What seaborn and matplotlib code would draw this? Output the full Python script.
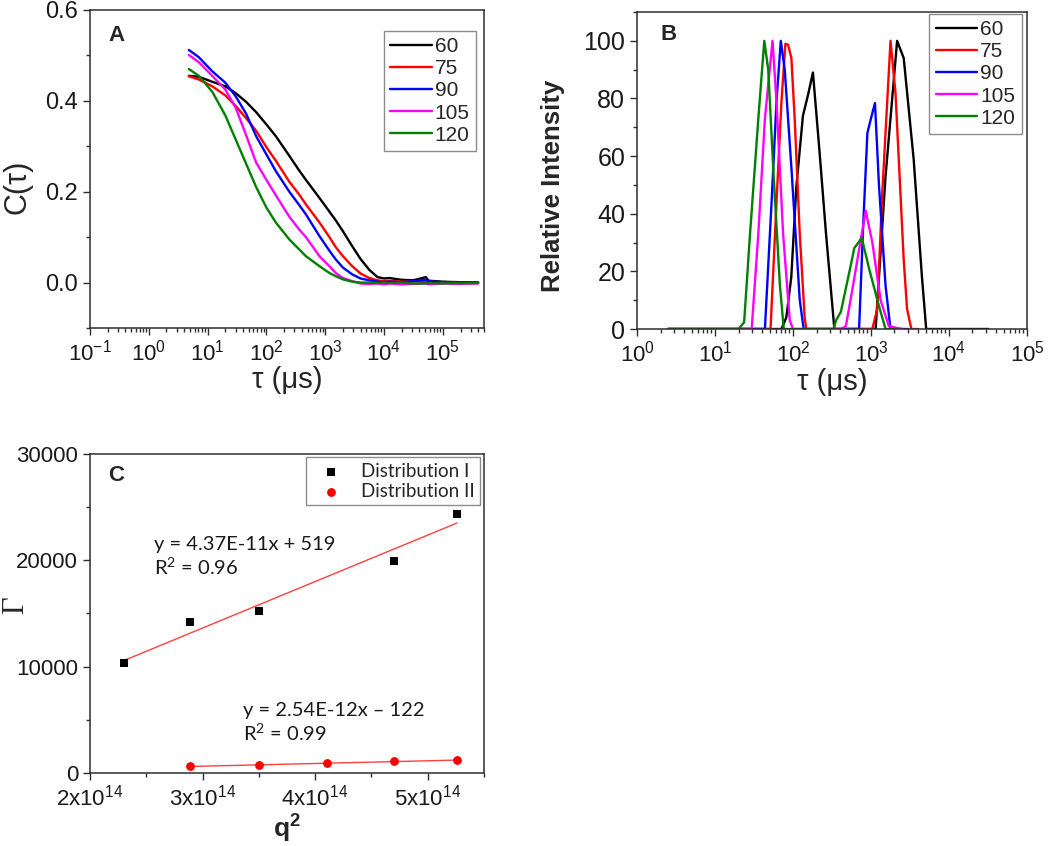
import matplotlib
matplotlib.use("Agg")
import matplotlib.pyplot as plt
import matplotlib.ticker as mticker
import seaborn as sns

# ============================================================
# DATA
# ============================================================
SERIES = ["60", "75", "90", "105", "120"]
COLORS = {"60": "black", "75": "#ff0000", "90": "#0000ff",
          "105": "#ff00ff", "120": "#008000"}

# --- panel A: correlation function C(tau), tau in microseconds ---
A_TAU = [4.8, 7.1, 12, 20, 30, 45, 67, 100, 145, 245, 355, 470, 800, 1180,
         1510, 2000, 2880, 3980, 5620, 7760, 10000, 12300, 20000, 31600,
         51300, 57500, 100000, 158000, 398000]
A_C_60 = [0.455, 0.453, 0.442, 0.432, 0.417, 0.398, 0.375, 0.348, 0.322,
          0.279, 0.248, 0.226, 0.186, 0.156, 0.137, 0.113, 0.080, 0.052,
          0.028, 0.012, 0.009, 0.010, 0.006, 0.005, 0.012, 0.004, 0.002,
          0.001, 0.000]
A_C_75 = [0.454, 0.447, 0.432, 0.412, 0.389, 0.362, 0.334, 0.298, 0.268,
          0.222, 0.195, 0.172, 0.132, 0.100, 0.078, 0.058, 0.036, 0.020,
          0.010, 0.005, 0.003, 0.004, 0.002, 0.003, 0.001, 0.002, 0.000,
          0.001, 0.000]
A_C_90 = [0.512, 0.496, 0.465, 0.440, 0.410, 0.372, 0.322, 0.282, 0.245,
          0.200, 0.172, 0.150, 0.102, 0.070, 0.051, 0.033, 0.018, 0.009,
          0.005, 0.002, 0.001, 0.002, 0.001, 0.003, 0.006, 0.003, 0.000,
          0.001, 0.000]
A_C_105 = [0.501, 0.485, 0.455, 0.425, 0.385, 0.325, 0.264, 0.226, 0.192,
           0.145, 0.118, 0.100, 0.058, 0.036, 0.021, 0.010, 0.003, -0.002,
           -0.003, -0.002, -0.004, -0.002, -0.004, -0.003, -0.002, -0.004,
           -0.002, -0.003, -0.002]
A_C_120 = [0.470, 0.455, 0.420, 0.368, 0.315, 0.262, 0.210, 0.165, 0.132,
           0.095, 0.074, 0.058, 0.036, 0.021, 0.014, 0.007, 0.002, 0.000,
           0.000, -0.001, 0.000, -0.001, 0.000, -0.002, -0.002, -0.001,
           -0.002, -0.001, -0.001]
A_C = {"60": A_C_60, "75": A_C_75, "90": A_C_90, "105": A_C_105, "120": A_C_120}

# --- panel B: relaxation time distributions ---
B_TAU_60 = [2.5, 71, 82, 95, 110, 134, 155, 180, 218, 265, 339, 1146, 1203,
            1536, 2161, 2626, 3520, 4500, 5100, 32000]
B_I_60 = [0, 0, 4, 18, 49, 74, 81, 89, 62, 33, 0, 0, 9, 53, 100, 94, 59, 18,
          0, 0]
B_TAU_75 = [2.5, 51.5, 61.4, 71.1, 79.9, 86.4, 95.3, 105, 122, 141, 148, 1040,
            1203, 1393, 1778, 2059, 2626, 2897, 3290, 4000]
B_I_75 = [0, 0, 44, 79, 99, 98.6, 94, 73, 33, 4, 0, 0, 7, 47, 100, 82, 24, 7,
          0, 0]
B_TAU_90 = [2.5, 43.6, 53.1, 61.4, 69.7, 78.3, 95.3, 122, 137, 703, 791, 898,
            1019, 1124, 1264, 1536, 1778, 3000]
B_I_90 = [0, 0, 44, 79, 100, 90, 56, 10, 0, 0, 35, 68, 74, 78.4, 50, 15, 0, 0]
B_TAU_105 = [2.5, 29.5, 35.9, 43.6, 54.6, 61.4, 74.6, 90.8, 100, 411, 476, 579,
             739, 855, 1040, 1327, 1693, 2500]
B_I_105 = [0, 0, 33, 73, 100, 79, 33, 3, 0, 0, 1, 14, 31, 41, 30, 10, 1, 0]
B_TAU_120 = [2.5, 20, 23.6, 28.1, 35.9, 42.8, 48.1, 55.7, 67.7, 76.1, 330, 356,
             411, 579, 608, 761, 944, 1264, 1463, 1536, 2000]
B_I_120 = [0, 0, 2.3, 33, 73, 100, 90, 56, 15.6, 0, 0, 3, 6, 25, 28, 31.6, 21,
           8, 2, 0, 0]
B_TAU = {"60": B_TAU_60, "75": B_TAU_75, "90": B_TAU_90, "105": B_TAU_105,
         "120": B_TAU_120}
B_I = {"60": B_I_60, "75": B_I_75, "90": B_I_90, "105": B_I_105,
       "120": B_I_120}

# --- panel C: decay rate vs q^2 ---
C_Q2_I = [2.30e14, 2.89e14, 3.50e14, 4.70e14, 5.26e14]
C_GAMMA_I = [10300, 14200, 15200, 19900, 24400]
C_Q2_II = [2.89e14, 3.50e14, 4.11e14, 4.70e14, 5.26e14]
C_GAMMA_II = [660, 780, 910, 1100, 1220]
FIT_I = (4.37e-11, 519, 0.96)      # slope, intercept, R^2
FIT_II = (2.54e-12, -122, 0.99)

# ============================================================
# STYLE
# ============================================================
sns.set_style("ticks")
plt.rcParams["font.family"] = ["Liberation Sans", "DejaVu Sans"]
plt.rcParams["mathtext.fontset"] = "custom"
plt.rcParams["mathtext.rm"] = "Liberation Sans"
plt.rcParams["mathtext.it"] = "Liberation Sans:italic"
plt.rcParams["mathtext.bf"] = "Liberation Sans:bold"
plt.rcParams["axes.unicode_minus"] = False

SPINE = "#2e2e2e"
TICK_FS = 16
LINE_W = 1.7


def style_axes(ax):
    for s in ax.spines.values():
        s.set_color(SPINE)
        s.set_linewidth(1.1)
    ax.tick_params(which="both", direction="out", color=SPINE, width=1.0,
                   labelsize=TICK_FS, labelcolor="#1a1a1a",
                   top=False, right=False)
    ax.tick_params(which="major", length=5)
    ax.tick_params(which="minor", length=3)


def log_axis(ax):
    ax.set_xscale("log")
    ax.xaxis.set_major_locator(mticker.LogLocator(base=10, numticks=12))
    ax.xaxis.set_minor_locator(mticker.LogLocator(base=10, subs=range(2, 10),
                                                  numticks=100))
    ax.xaxis.set_minor_formatter(mticker.NullFormatter())


def legend_box(ax, **kw):
    leg = ax.legend(frameon=True, fancybox=False, framealpha=1,
                    edgecolor="#8c8c8c", borderaxespad=0, **kw)
    leg.get_frame().set_linewidth(1.0)
    return leg


fig = plt.figure(figsize=(10.5, 8.46), dpi=100)
axA = fig.add_axes([0.0857, 0.6123, 0.3752, 0.3759])
axB = fig.add_axes([0.6067, 0.6111, 0.3714, 0.3747])
axC = fig.add_axes([0.0857, 0.0863, 0.3752, 0.3771])

# ============================================================
# PANEL A
# ============================================================
for name in SERIES:
    sns.lineplot(x=A_TAU, y=A_C[name], color=COLORS[name], lw=LINE_W,
                 label=name, estimator=None, ax=axA)
log_axis(axA)
axA.set_xlim(0.1, 5e5)
axA.set_ylim(-0.1, 0.6)
axA.yaxis.set_major_locator(mticker.MultipleLocator(0.2))
axA.yaxis.set_minor_locator(mticker.MultipleLocator(0.1))
axA.yaxis.set_major_formatter(mticker.FormatStrFormatter("%.1f"))
style_axes(axA)
axA.tick_params(axis="y", labelsize=17)
axA.set_xlabel("τ (μs)", fontsize=21)
axA.set_ylabel("C(τ)", fontsize=22)
axA.xaxis.set_label_coords(0.5, -0.12)
axA.yaxis.set_label_coords(-0.145, 0.445)
axA.text(0.046, 0.92, "A", transform=axA.transAxes, fontsize=16,
         fontweight="bold", va="center", ha="left")
legend_box(axA, loc="upper right", bbox_to_anchor=(0.98, 0.934),
           fontsize=15, handlelength=2.0, handletextpad=0.15,
           labelspacing=0.15, borderpad=0.3)

# ============================================================
# PANEL B
# ============================================================
for name in SERIES:
    sns.lineplot(x=B_TAU[name], y=B_I[name], color=COLORS[name], lw=LINE_W,
                 label=name, estimator=None, ax=axB)
log_axis(axB)
axB.set_xlim(1, 1e5)
axB.set_ylim(0, 110)
axB.yaxis.set_major_locator(mticker.MultipleLocator(20))
axB.yaxis.set_minor_locator(mticker.MultipleLocator(10))
style_axes(axB)
axB.tick_params(axis="y", labelsize=18)
axB.set_xlabel("τ (μs)", fontsize=21)
axB.set_ylabel("Relative Intensity", fontsize=18.5, fontweight="bold")
axB.xaxis.set_label_coords(0.5, -0.123)
axB.yaxis.set_label_coords(-0.185, 0.45)
axB.text(0.059, 0.929, "B", transform=axB.transAxes, fontsize=16,
         fontweight="bold", va="center", ha="left")
legend_box(axB, loc="upper right", bbox_to_anchor=(0.986, 0.994),
           fontsize=15, handlelength=2.0, handletextpad=0.15,
           labelspacing=0.15, borderpad=0.3)

# ============================================================
# PANEL C
# ============================================================
for xs, (slope, icpt, _) in [(C_Q2_I, FIT_I), (C_Q2_II, FIT_II)]:
    ends = [min(xs), max(xs)]
    sns.lineplot(x=ends, y=[slope * v + icpt for v in ends], color="#ff4040",
                 lw=1.0, estimator=None, ax=axC)
sns.scatterplot(x=C_Q2_I, y=C_GAMMA_I, marker="s", color="black", s=38,
                linewidth=0, label="Distribution I", ax=axC, zorder=3)
sns.scatterplot(x=C_Q2_II, y=C_GAMMA_II, marker="o", color="#ff0000", s=40,
                linewidth=0, label="Distribution II", ax=axC, zorder=3)
axC.set_xlim(2e14, 5.5e14)
axC.set_ylim(0, 30000)
axC.xaxis.set_major_locator(mticker.MultipleLocator(1e14))
axC.xaxis.set_minor_locator(mticker.MultipleLocator(0.5e14))
axC.xaxis.set_major_formatter(mticker.FuncFormatter(
    lambda v, _: r"$\mathrm{%dx10^{14}}$" % round(v / 1e14)))
axC.yaxis.set_major_locator(mticker.MultipleLocator(10000))
axC.yaxis.set_minor_locator(mticker.MultipleLocator(5000))
style_axes(axC)
axC.set_xlabel(r"$\mathbf{q^{2}}$", fontsize=19)
axC.set_ylabel("Γ", fontfamily="Liberation Serif", fontsize=22)
axC.xaxis.set_label_coords(0.5, -0.125)
axC.yaxis.set_label_coords(-0.152, 0.525)
axC.text(0.046, 0.931, "C", transform=axC.transAxes, fontsize=16,
         fontweight="bold", va="center", ha="left")


def fit_text(slope, icpt, r2):
    sign = "+" if icpt >= 0 else "\u2013"
    return (f"y = {slope:.2E}x {sign} {abs(icpt)}\n"
            f"R$^{{\\mathregular{{2}}}}$ = {r2:.2f}")


axC.text(2.57e14, 22300, fit_text(*FIT_I), fontfamily="Lato", fontsize=14.5,
         va="top", ha="left", linespacing=1.15, color="#1a1a1a")
axC.text(3.36e14, 6700, fit_text(*FIT_II), fontfamily="Lato", fontsize=14.5,
         va="top", ha="left", linespacing=1.15, color="#1a1a1a")
legend_box(axC, loc="upper right", bbox_to_anchor=(0.99, 0.99),
           prop={"family": "Lato", "size": 13.5}, handlelength=2.0,
           handletextpad=0.6, labelspacing=0.15, borderpad=0.3,
           scatterpoints=1)

fig.savefig("out.png", dpi=100)
